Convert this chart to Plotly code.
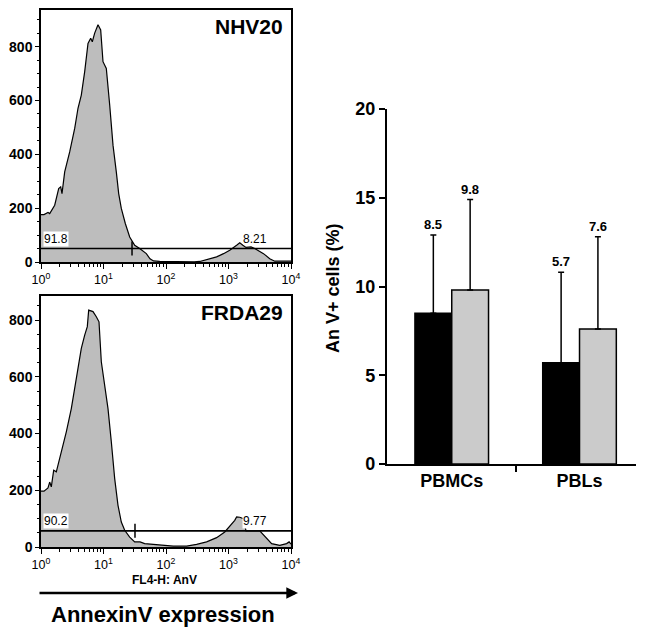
import numpy as np
import plotly.graph_objects as go

FONT = "Liberation Sans, Arial, Helvetica, sans-serif"

# ---------------- Flow cytometry histograms (log10 FL4-H position, event count) -------------
nhv20_log_fl = [0.0, 0.048, 0.112, 0.139, 0.219, 0.283, 0.315, 0.336, 0.379, 0.459, 0.539,
                0.592, 0.645, 0.699, 0.752, 0.795, 0.821, 0.859, 0.912, 0.955, 0.992, 1.045,
                1.099, 1.152, 1.205, 1.243, 1.285, 1.349, 1.419, 1.499, 1.579, 1.685, 1.744,
                1.80, 1.9, 2.1, 2.3, 2.45, 2.54, 2.65, 2.81, 2.92, 3.02, 3.13, 3.18, 3.23,
                3.28, 3.36, 3.42, 3.56, 3.66, 3.74, 3.85, 4.0]
nhv20_counts = [176, 176, 184, 180, 211, 273, 279, 254, 335, 409, 496,
                571, 620, 707, 812, 831, 818, 850, 881, 862, 744, 719,
                583, 434, 335, 254, 199, 143, 93, 62, 50, 31, 12,
                4, 2, 1, 1, 1, 2, 9, 19, 31, 44, 62, 71, 62,
                54, 56, 50, 31, 12, 3, 3, 3]

frda29_log_fl = [0.0, 0.048, 0.112, 0.139, 0.165, 0.203, 0.245, 0.325, 0.405, 0.485, 0.565,
                 0.645, 0.699, 0.741, 0.763, 0.832, 0.885, 0.928, 0.965, 1.019, 1.072, 1.125,
                 1.179, 1.232, 1.285, 1.339, 1.419, 1.499, 1.584, 1.659, 1.744, 1.904, 2.117,
                 2.33, 2.49, 2.65, 2.81, 2.94, 3.02, 3.10, 3.13, 3.18, 3.24, 3.28, 3.50, 3.61,
                 3.69, 3.82, 3.93, 3.97, 4.0]
frda29_counts = [197, 197, 208, 229, 212, 271, 265, 335, 406, 488, 594,
                 700, 747, 777, 835, 830, 812, 794, 653, 571, 488, 371,
                 241, 147, 88, 59, 35, 18, 18, 12, 10, 6, 3,
                 3, 9, 18, 33, 53, 73, 94, 106, 105, 100, 57, 57, 30,
                 12, 6, 12, 18, 10]

panel_names = ["NHV20", "FRDA29"]
gate_levels = [50, 57]
gate_split = [28.6, 31.9]
left_pct = ["91.8", "90.2"]
right_pct = ["8.21", "9.77"]
right_pct_log_x = [3.42, 3.42]
y_max = [936, 885]

hist_x_tickvals = [1, 10, 100, 1000, 10000]
hist_x_ticktext = ["10<sup>0</sup>", "10<sup>1</sup>", "10<sup>2</sup>", "10<sup>3</sup>", "10<sup>4</sup>"]
hist_y_tickvals = [0, 200, 400, 600, 800]

# ---------------- Bar chart ----------------
categories = ["PBMCs", "PBLs"]
control_mean = [8.5, 5.7]
control_sd = [4.4, 5.1]
frda_mean = [9.8, 7.6]
frda_sd = [5.1, 5.2]
bar_y_ticks = [0, 5, 10, 15, 20]

# ---------------- Layout geometry ----------------
W, H = 645, 635
def px_x(p):
    return p / W
def px_y(p):
    return (H - p) / H

hist_xdom = [px_x(41), px_x(291)]
hist_ydoms = [[px_y(262), px_y(10)], [px_y(547), px_y(296)]]
bar_xdom = [px_x(386.7), px_x(636)]
bar_ydom = [px_y(464), px_y(109)]

fig = go.Figure()

minor_vals = [m * 10 ** k for k in range(4) for m in range(2, 10)]

hist_data = [(nhv20_log_fl, nhv20_counts), (frda29_log_fl, frda29_counts)]
for i, (lx, cnt) in enumerate(hist_data):
    xa = "x" if i == 0 else "x2"
    ya = "y" if i == 0 else "y2"
    fig.add_trace(go.Scatter(
        x=10 ** np.array(lx), y=cnt, mode="lines", fill="tozeroy",
        fillcolor="#bdbdbd", line=dict(color="black", width=1.2),
        xaxis=xa, yaxis=ya, showlegend=False, hoverinfo="skip"))
    # gate line
    fig.add_trace(go.Scatter(
        x=[1, 10000], y=[gate_levels[i], gate_levels[i]], mode="lines",
        line=dict(color="black", width=1.6), xaxis=xa, yaxis=ya,
        showlegend=False, hoverinfo="skip"))
    # gate split marker
    fig.add_trace(go.Scatter(
        x=[gate_split[i]], y=[gate_levels[i]], mode="markers",
        marker=dict(symbol="line-ns-open", size=10, color="black",
                    line=dict(color="black", width=1.5)),
        xaxis=xa, yaxis=ya, showlegend=False, hoverinfo="skip"))

    axn = "" if i == 0 else "2"
    fig.layout["xaxis" + axn] = dict(
        type="log", range=[0, 4], domain=hist_xdom, anchor=ya, automargin=False,
        showline=True, mirror=True, linecolor="black", linewidth=1.5,
        ticks="outside", ticklen=5, tickwidth=1.3, tickcolor="black",
        tickmode="array", tickvals=hist_x_tickvals, ticktext=hist_x_ticktext,
        tickfont=dict(family=FONT, size=12.5, color="black"),
        minor=dict(tickmode="array", tickvals=minor_vals, ticks="outside",
                   ticklen=3, tickwidth=1, tickcolor="black", showgrid=False),
        showgrid=False, zeroline=False)
    fig.layout["yaxis" + axn] = dict(
        range=[0, y_max[i]], domain=hist_ydoms[i], anchor=xa, automargin=False,
        showline=True, mirror=True, linecolor="black", linewidth=1.5,
        ticks="outside", ticklen=4, tickwidth=1.3, tickcolor="black",
        tickmode="array", tickvals=hist_y_tickvals, ticklabelstandoff=0,
        tickfont=dict(family=FONT, size=14, color="black", weight="bold"),
        minor=dict(tick0=0, dtick=50, ticks="outside", ticklen=2, tickwidth=1,
                   tickcolor="black", showgrid=False),
        showgrid=False, zeroline=False)

    fig.add_annotation(
        x=0.975, y=0.935 if i == 0 else 0.936, xref=xa + " domain", yref=ya + " domain",
        text="<b>%s</b>" % panel_names[i], showarrow=False, xanchor="right", yanchor="middle",
        font=dict(family=FONT, size=21, color="black"))
    fig.add_annotation(
        x=0.035, y=gate_levels[i], xref=xa, yref=ya, text=left_pct[i], showarrow=False,
        xanchor="left", yanchor="bottom", yshift=2, bgcolor="white", borderpad=0,
        font=dict(family=FONT, size=12, color="black"))
    fig.add_annotation(
        x=right_pct_log_x[i], y=gate_levels[i], xref=xa, yref=ya, text=right_pct[i],
        showarrow=False, xanchor="center", yanchor="bottom", yshift=2,
        bgcolor="white" if i == 1 else "rgba(0,0,0,0)", borderpad=0,
        font=dict(family=FONT, size=12, color="black"))

# FL4-H axis label, arrow and expression label
fig.add_annotation(x=px_x(164), y=px_y(580), xref="paper", yref="paper",
                   xanchor="center", yanchor="middle",
                   text="<b>FL4-H: AnV</b>", showarrow=False,
                   font=dict(family=FONT, size=12, color="black"))
fig.add_annotation(x=px_x(298), y=px_y(593), xref="paper", yref="paper", text="",
                   showarrow=True, ax=-260, ay=0, arrowhead=2, arrowsize=0.9,
                   arrowwidth=2.6, arrowcolor="black")
fig.add_annotation(x=px_x(163), y=px_y(614), xref="paper", yref="paper",
                   xanchor="center", yanchor="middle",
                   text="<b>AnnexinV expression</b>", showarrow=False,
                   font=dict(family=FONT, size=22, color="black"))

# ---------------- Bars ----------------
bar_w = 0.288
idx = np.arange(len(categories))
for means, sds, color, side, name in [(control_mean, control_sd, "black", -1, "Control"),
                                       (frda_mean, frda_sd, "#cbcbcb", 1, "FRDA")]:
    xs = idx + side * bar_w / 2
    fig.add_trace(go.Bar(
        x=xs, y=means, width=bar_w, name=name, showlegend=False,
        marker=dict(color=color, line=dict(color="black", width=1.5)),
        error_y=dict(type="data", array=sds, arrayminus=[0] * len(sds), symmetric=False,
                     color="black", thickness=1.5, width=3),
        xaxis="x3", yaxis="y3", hoverinfo="skip"))
    for xv, m, s in zip(xs, means, sds):
        fig.add_annotation(x=xv, y=m + s, xref="x3", yref="y3", text="<b>%s</b>" % m,
                           showarrow=False, xanchor="center", yanchor="bottom", yshift=1,
                           font=dict(family=FONT, size=13, color="black"))

fig.layout.xaxis3 = dict(
    domain=bar_xdom, anchor="y3", range=[-0.509, 1.442], automargin=False,
    showline=True, linecolor="black", linewidth=1.5,
    tickmode="array", tickvals=list(idx), ticktext=["<b>%s</b>" % c for c in categories],
    ticks="", tickfont=dict(family=FONT, size=18, color="black"),
    minor=dict(tickmode="array", tickvals=[0.5], ticks="outside", ticklen=6, tickwidth=1.5,
               tickcolor="black", showgrid=False),
    showgrid=False, zeroline=False)
fig.layout.yaxis3 = dict(
    domain=bar_ydom, anchor="x3", range=[0, 20], automargin=False,
    showline=True, linecolor="black", linewidth=1.5,
    tickmode="array", tickvals=bar_y_ticks, ticks="outside", ticklen=6, tickwidth=1.5,
    tickcolor="black", tickfont=dict(family=FONT, size=18, color="black", weight="bold"),
    showgrid=False, zeroline=False)
fig.add_annotation(x=px_x(333), y=px_y(288), xref="paper", yref="paper",
                   xanchor="center", yanchor="middle",
                   text="<b>An V+ cells (%)</b>", textangle=-90, showarrow=False,
                   font=dict(family=FONT, size=18, color="black"))

fig.update_layout(
    width=W, height=H, margin=dict(l=0, r=0, t=0, b=0, autoexpand=False),
    paper_bgcolor="white", plot_bgcolor="white", barmode="overlay",
    font=dict(family=FONT, color="black"), showlegend=False)

fig.write_html("out.html", config={"displayModeBar": False},
               post_script="document.body.style.margin='0';document.body.style.overflow='hidden';")
